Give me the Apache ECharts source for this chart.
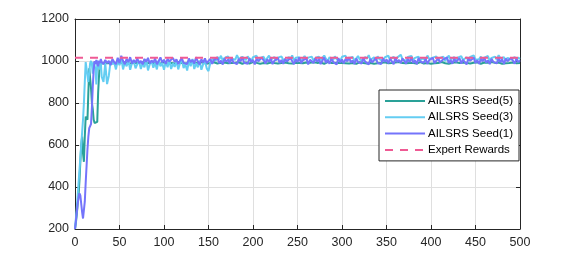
<!DOCTYPE html>
<html>
<head>
<meta charset="utf-8">
<script src="https://cdn.jsdelivr.net/npm/echarts@6/dist/echarts.min.js"></script>
<style>
  html, body { margin: 0; padding: 0; background: #fff; }
  #myChart { width: 576px; height: 258px; }
</style>
</head>
<body>
<div id="myChart"></div>
<script>
// episode numbers: every episode up to 30, then every 2nd one up to 500
var episodes = [
  0, 1, 2, 3, 4, 5, 6, 7, 8, 9, 10, 11, 12, 13, 14, 15, 16, 17, 18, 19, 20,
  21, 22, 23, 24, 25, 26, 27, 28, 29, 30
];
for (var e = 32; e <= 500; e += 2) episodes.push(e);

var seed5 = [
  200, 230, 270, 320, 360, 430, 520, 600, 640, 560, 520, 640, 735, 730, 720, 850, 965, 960, 870, 800, 770,
  720, 705, 705, 705, 710, 850, 930, 1000, 990, 995,
  988, 992, 990, 995, 988, 993, 990, 996, 989, 992, 991, 988, 994, 990, 987, 993, 989, 995, 990, 988,
  992, 989, 994, 991, 987, 990, 993, 988, 991, 995, 989, 992, 988, 990, 994, 991, 987, 992, 990, 993,
  988, 991, 995, 989, 990, 992, 988, 994, 990, 987, 991, 993, 989, 990, 995, 988, 992, 990, 987, 993,
  991, 989, 994, 990, 988, 992, 991, 987, 993, 990, 989, 995, 991, 988, 992, 990, 994, 989, 987, 991,
  993, 990, 988, 992, 995, 989, 991, 990, 987, 994, 990, 992, 988, 991, 993, 989, 990, 995, 988, 992,
  990, 987, 993, 991, 989, 994, 988, 990, 992, 987, 991, 995, 989, 990, 993, 988, 992, 990, 994, 989,
  991, 988, 993, 990, 987, 992, 995, 989, 991, 988, 990, 994, 992, 987, 990, 993, 989, 991, 988, 995,
  990, 992, 987, 991, 994, 989, 990, 993, 988, 992, 990, 995, 987, 991, 989, 993, 990, 988, 994, 991,
  989, 992, 990, 987, 993, 991, 995, 988, 990, 992, 989, 994, 991, 987, 990, 993, 988, 991, 995, 990,
  988, 993, 990, 991, 987, 994, 989, 992, 990, 988, 995, 991, 989, 993, 987, 990, 992, 988, 994, 991,
  990, 987, 993, 989, 991, 995, 988, 990, 992, 989, 994, 990, 987, 991, 993, 988, 992, 990, 995, 989,
  991, 988, 993, 990, 987, 994, 989, 992, 990, 988, 993, 991, 989, 994, 990
];

var seed3 = [
  200, 250, 300, 360, 420, 480, 540, 600, 660, 720, 800, 900, 995, 1000, 990, 900, 895, 990, 1000, 985, 940,
  995, 1000, 960, 888, 990, 1000, 970, 960, 995, 925,
  900, 990, 890, 930, 1000, 985, 995, 960, 1005, 980, 1015, 960, 995, 975, 1005, 958, 990, 1000, 965, 985,
  1000, 962, 990, 970, 1008, 955, 985, 1000, 968, 992, 960, 1003, 975, 990, 958, 998, 970, 1005, 962, 988,
  972, 1000, 960, 990, 1008, 966, 985, 955, 998, 975, 1010, 962, 990, 970, 1002, 958, 985, 1000, 965, 952,
  990, 1005, 1015, 1000, 1020, 1008, 1025, 1002, 1015, 1010, 1022, 1000, 1012, 1018, 1005, 1028, 1010, 1003, 1020, 1012,
  1005, 1022, 1010, 1000, 1018, 1012, 1025, 1004, 1015, 1008, 1020, 1000, 1014, 1026, 1006, 1012, 1019, 1002, 1016, 1010,
  1022, 1005, 1013, 1000, 1020, 1010, 1027, 1003, 1015, 1008, 1018, 1000, 1012, 1024, 1006, 1016, 1010, 1021, 1002, 1014,
  1008, 1020, 1003, 1015, 1026, 1010, 1000, 1018, 1012, 1005, 1022, 1009, 1016, 1001, 1020, 1011, 1025, 1004, 1014, 1008,
  1019, 1002, 1012, 1024, 1007, 1015, 1000, 1020, 1010, 1028, 1005, 1014, 1018, 1002, 1022, 1009, 1013, 1000, 1017, 1011,
  1025, 1006, 1014, 1020, 1003, 1016, 1010, 1030, 1008, 1012, 1000, 1019, 1011, 1024, 1005, 1015, 1009, 1021, 1002, 1013,
  1018, 1006, 1026, 1010, 1001, 1016, 1012, 1022, 1004, 1014, 1008, 1020, 1000, 1015, 1025, 1007, 1012, 1019, 1003, 1016,
  1010, 1023, 1005, 1013, 1018, 1001, 1020, 1011, 1027, 1006, 1014, 1009, 1021, 1003, 1016, 1012, 1024, 1000, 1015, 1010,
  1020, 1005, 1028, 1012, 1008, 1018, 1002, 1015, 1022, 1006, 1013, 1019, 1004, 1016, 1010
];

var seed1 = [
  200, 240, 280, 320, 350, 370, 360, 320, 280, 250, 245, 330, 420, 500, 580, 640, 680, 690, 700, 780, 880,
  960, 1000, 985, 1005, 990, 975, 1000, 990, 1010, 995,
  985, 1005, 990, 1000, 980, 1010, 995, 985, 1015, 990, 1025, 1000, 985, 1010, 995, 1018, 988, 1005, 992, 1012,
  990, 1000, 984, 1010, 996, 1015, 988, 1003, 992, 1012, 985, 1000, 1017, 993, 1006, 986, 1010, 998, 990, 1015,
  996, 1008, 985, 1002, 1014, 991, 1000, 986, 1012, 995, 1005, 988, 1018, 997, 984, 1008, 993, 1012, 990, 1000,
  1010, 986, 1004, 995, 1016, 990, 1002, 983, 1012, 997, 1007, 988, 1015, 994, 1003, 985, 1010, 998, 1017, 992,
  1000, 987, 1013, 995, 1006, 984, 1010, 999, 991, 1016, 1003, 988, 1008, 996, 1012, 985, 1001, 994, 1015, 990,
  1005, 986, 1011, 997, 992, 1014, 1000, 985, 1008, 995, 1017, 989, 1003, 996, 1012, 984, 1006, 999, 990, 1013,
  997, 1009, 985, 1002, 1016, 991, 1005, 987, 1011, 996, 1000, 983, 1014, 993, 1007, 989, 1010, 998, 1018, 992,
  1003, 986, 1012, 995, 1001, 988, 1015, 997, 1006, 984, 1010, 993, 1004, 1017, 990, 999, 986, 1013, 996, 1007,
  989, 1011, 998, 985, 1016, 994, 1005, 990, 1012, 1000, 987, 1009, 995, 1018, 991, 1003, 985, 1014, 997, 1006,
  992, 1010, 986, 1004, 996, 1015, 989, 1002, 1012, 994, 985, 1008, 999, 1017, 990, 1005, 987, 1011, 995, 1003,
  1014, 988, 1006, 997, 984, 1012, 1001, 993, 1016, 990, 1004, 986, 1010, 998, 1015, 992, 1003, 985, 1011, 996,
  1005, 989, 1013, 994, 1008, 986, 1012, 999, 990, 1015, 1002, 987, 1010, 995, 1003
];

var expertX = [0, 500];
var expertReward = [1015, 1015];

var xTicks = { min: 0, max: 500, interval: 50 };
var yTicks = { min: 200, max: 1200, interval: 200 };

function pairs(xs, ys) {
  return xs.map(function (x, i) { return [x, ys[i]]; });
}

var axisColor = '#262626';
var font = 'Liberation Sans, Arial, sans-serif';

var myChart = echarts.init(document.getElementById('myChart'), null, { renderer: 'canvas' });

function lineSeries(name, data, color) {
  return {
    name: name,
    type: 'line',
    data: data,
    symbol: 'none',
    showSymbol: false,
    lineStyle: { color: color, width: 2 },
    itemStyle: { color: color },
    silent: true
  };
}

myChart.setOption({
  animation: false,
  backgroundColor: '#fff',
  grid: { left: 75, right: 56, top: 19, bottom: 29 },
  legend: {
    orient: 'vertical',
    left: 379,
    top: 90,
    width: 140,
    padding: [5, 6, 5, 5],
    itemWidth: 40,
    itemHeight: 12,
    itemGap: 4.3,
    backgroundColor: '#fff',
    borderColor: axisColor,
    borderWidth: 1,
    itemStyle: { opacity: 0 },
    textStyle: { fontFamily: font, fontSize: 11.5, color: '#000', padding: [0, 0, 0, -2] },
    data: ['AILSRS Seed(5)', 'AILSRS Seed(3)', 'AILSRS Seed(1)', 'Expert Rewards']
  },
  xAxis: [
    {
      type: 'value',
      min: xTicks.min, max: xTicks.max, interval: xTicks.interval,
      position: 'bottom',
      axisLine: { show: true, lineStyle: { color: axisColor, width: 1 } },
      axisTick: { show: true, inside: true, length: 4, lineStyle: { color: axisColor } },
      axisLabel: { margin: 7, color: '#262626', fontFamily: font, fontSize: 12.5 },
      splitLine: { show: true, lineStyle: { color: '#dfdfdf', width: 1 } }
    },
    {
      type: 'value',
      min: xTicks.min, max: xTicks.max, interval: xTicks.interval,
      position: 'top',
      axisLine: { show: true, onZero: false, lineStyle: { color: axisColor, width: 1 } },
      axisTick: { show: true, inside: true, length: 4, lineStyle: { color: axisColor } },
      axisLabel: { show: false },
      splitLine: { show: false }
    }
  ],
  yAxis: [
    {
      type: 'value',
      min: yTicks.min, max: yTicks.max, interval: yTicks.interval,
      position: 'left',
      axisLine: { show: true, onZero: false, lineStyle: { color: axisColor, width: 1 } },
      axisTick: { show: true, inside: true, length: 4, lineStyle: { color: axisColor } },
      axisLabel: {
        margin: 6, color: '#262626', fontFamily: font, fontSize: 12.5,
        formatter: function (v) { return String(v); }
      },
      splitLine: { show: true, lineStyle: { color: '#dfdfdf', width: 1 } }
    },
    {
      type: 'value',
      min: yTicks.min, max: yTicks.max, interval: yTicks.interval,
      position: 'right',
      axisLine: { show: true, onZero: false, lineStyle: { color: axisColor, width: 1 } },
      axisTick: { show: true, inside: true, length: 4, lineStyle: { color: axisColor } },
      axisLabel: { show: false },
      splitLine: { show: false }
    }
  ],
  series: [
    lineSeries('AILSRS Seed(5)', pairs(episodes, seed5), '#2aa198'),
    lineSeries('AILSRS Seed(3)', pairs(episodes, seed3), '#64cdf2'),
    lineSeries('AILSRS Seed(1)', pairs(episodes, seed1), '#7474fb'),
    {
      name: 'Expert Rewards',
      type: 'line',
      data: pairs(expertX, expertReward),
      symbol: 'none',
      showSymbol: false,
      lineStyle: { color: '#ef5a94', width: 2, type: [8, 7] },
      itemStyle: { color: '#ef5a94' },
      silent: true
    }
  ]
});
</script>
</body>
</html>
